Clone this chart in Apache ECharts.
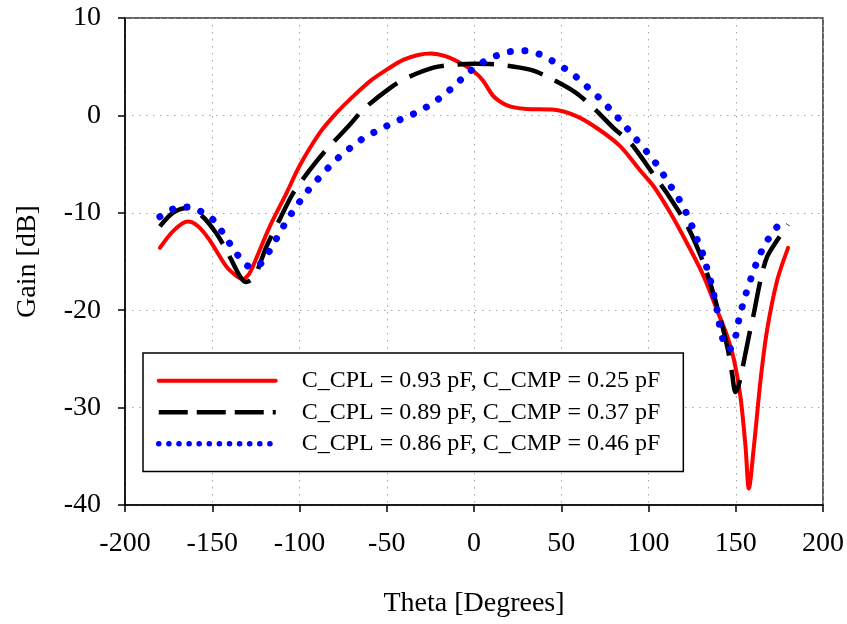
<!DOCTYPE html>
<html>
<head>
<meta charset="utf-8">
<script src="https://cdn.jsdelivr.net/npm/echarts@6/dist/echarts.min.js"></script>
<style>
  html, body { margin: 0; padding: 0; background: #ffffff; }
  #chart { width: 847px; height: 624px; }
</style>
</head>
<body>
<div id="chart"></div>
<script>
// Gain patterns for three capacitor settings
const seriesNames = [
  'C_CPL = 0.93 pF, C_CMP = 0.25 pF',
  'C_CPL = 0.89 pF, C_CMP = 0.37 pF',
  'C_CPL = 0.86 pF, C_CMP = 0.46 pF'
];

const thetaA = [-180, -172, -164, -158, -151.5, -142, -136, -132.4, -129, -126.7, -117, -107.5, -100, -88.4, -78.8, -69.3, -59.7, -50, -40.6, -32, -25, -16, -6, 0, 5, 11, 16, 21, 30, 45, 59, 72, 84, 95, 103, 112.5, 122, 131.6, 139.3, 145, 149, 152.7, 155.6, 157.5, 160.4, 164.2, 168, 173.8, 180];
const gainA  = [-13.6, -11.8, -10.9, -11.4, -12.8, -15.5, -16.5, -16.8, -16.3, -15.5, -11.4, -8.0, -5.2, -1.8, 0.25, 1.95, 3.5, 4.7, 5.7, 6.2, 6.35, 6.05, 5.2, 4.5, 3.6, 2.0, 1.3, 0.9, 0.65, 0.6, -0.1, -1.5, -3.2, -5.6, -7.3, -10.0, -13.1, -16.5, -20, -22.6, -25.1, -28.9, -34, -38.3, -34, -27.2, -22, -16.9, -13.6];

const thetaB = [-180, -172.6, -164, -155.4, -147.7, -142, -137.2, -133.5, -130.9, -128, -124.8, -119, -111.4, -103.7, -94.1, -86.5, -71.2, -63.5, -48.2, -38.6, -23.3, -11.9, 0, 14.9, 32.1, 41.7, 57, 66.6, 80, 89.6, 103, 110.6, 122.1, 131.6, 139.3, 145.1, 147.9, 149.8, 151.5, 153.7, 157.5, 160.4, 164.2, 168, 173.8, 180];
const gainB  = [-11.4, -10, -9.5, -10.4, -12.1, -13.8, -15.5, -16.7, -17.1, -16.9, -16.2, -13.5, -10.7, -8.0, -5.6, -3.9, -0.96, 0.6, 2.8, 3.84, 4.9, 5.2, 5.3, 5.2, 4.7, 4.0, 2.5, 1.1, -1.3, -2.8, -6.1, -8.0, -11.3, -15.2, -19.6, -23.7, -26.5, -28.4, -27.8, -26.1, -22.7, -20.3, -16.9, -14.5, -12.8, -11.2];

const thetaC = [-180, -172.2, -164, -156.1, -149, -142.7, -137.2, -130.9, -127, -123.2, -117.5, -112.7, -107.9, -102.4, -96.4, -89.7, -83.1, -76.2, -69.1, -62.2, -54.5, -46.9, -39.2, -31.6, -24.3, -17.2, -10.3, -3.2, 3.5, 11.1, 19.3, 27.6, 35.8, 43.8, 51.3, 58.2, 65.1, 72.3, 79.2, 85.7, 92.2, 99.3, 105.4, 111, 116.5, 121.1, 124.8, 128, 131.3, 133.8, 136.2, 138, 139.8, 141.2, 143.5, 146, 148.3, 150.4, 152.1, 154.4, 156.9, 159.8, 162.9, 167.2, 173, 175];
const gainC  = [-10.4, -9.6, -9.4, -9.9, -10.8, -12.4, -13.9, -15.3, -15.6, -15.4, -14, -12.5, -11, -9.5, -8.0, -6.6, -5.3, -4.1, -3.1, -2.2, -1.5, -0.8, -0.2, 0.4, 1.2, 2.1, 3.2, 4.4, 5.3, 6.0, 6.5, 6.65, 6.4, 5.7, 4.9, 4.0, 2.9, 1.7, 0.4, -0.9, -2.3, -3.8, -5.2, -6.8, -8.3, -9.8, -11.3, -12.8, -14.3, -15.9, -17.4, -18.9, -20.4, -22, -23.4, -24, -23.7, -22.3, -20.7, -19.2, -17.7, -16.2, -14.7, -13.1, -11.6, -11.2];

const xTicks = { min: -200, max: 200, step: 50 };
const yTicks = { min: -40, max: 10, step: 10 };

const FONT = 'Liberation Serif';

function pairs(xs, ys) {
  return xs.map((x, i) => [x, ys[i]]);
}

const chart = echarts.init(document.getElementById('chart'), null, { renderer: 'canvas' });

const gridLine = { show: true, lineStyle: { color: '#a6a6a6', width: 1, type: [1.5, 5.5] } };

chart.setOption({
  animation: false,
  backgroundColor: '#ffffff',
  grid: {
    left: 125, right: 24, top: 18, bottom: 119,
    show: true, borderColor: '#333333', borderWidth: 1.5, backgroundColor: 'transparent'
  },
  xAxis: {
    type: 'value',
    min: xTicks.min, max: xTicks.max, interval: xTicks.step,
    name: 'Theta [Degrees]',
    nameLocation: 'middle',
    nameGap: 85,
    nameTextStyle: { fontFamily: FONT, fontSize: 28, color: '#000' },
    axisLine: { show: true, onZero: false, lineStyle: { color: '#000', width: 1.5 } },
    axisTick: { show: true, inside: false, length: 7, lineStyle: { color: '#000', width: 1.5 } },
    axisLabel: { fontFamily: FONT, fontSize: 28, color: '#000', margin: 25 },
    splitLine: gridLine
  },
  yAxis: {
    type: 'value',
    min: yTicks.min, max: yTicks.max, interval: yTicks.step,
    name: 'Gain [dB]',
    nameLocation: 'middle',
    nameGap: 83,
    nameTextStyle: { fontFamily: FONT, fontSize: 28, color: '#000' },
    axisLine: { show: true, onZero: false, lineStyle: { color: '#000', width: 1.5 } },
    axisTick: { show: true, inside: false, length: 7, lineStyle: { color: '#000', width: 1.5 } },
    axisLabel: { fontFamily: FONT, fontSize: 28, color: '#000', margin: 24 },
    splitLine: gridLine
  },
  legend: {
    orient: 'vertical',
    left: 143, top: 353,
    padding: [12, 23, 12, 13],
    itemWidth: 117, itemHeight: 14, itemGap: 0,
    backgroundColor: '#ffffff',
    borderColor: '#000000', borderWidth: 1.5,
    selectedMode: false,
    itemStyle: { color: 'rgba(0,0,0,0)', borderColor: 'rgba(0,0,0,0)', borderWidth: 0 },
    textStyle: { fontFamily: FONT, fontSize: 24, color: '#000', lineHeight: 31.5, padding: [0, 0, 0, 21] },
    data: [
      { name: seriesNames[0], lineStyle: { color: '#ff0000', width: 4, type: 'solid', cap: 'round' } },
      { name: seriesNames[1], lineStyle: { color: '#000000', width: 4.5, type: [29, 9], cap: 'butt' } },
      { name: seriesNames[2], lineStyle: { color: '#0000ff', width: 5.5, type: [0.1, 10], cap: 'round' } }
    ]
  },
  series: [
    {
      name: seriesNames[0], type: 'line', symbol: 'none', smooth: 0.3,
      data: pairs(thetaA, gainA),
      lineStyle: { color: '#ff0000', width: 4, type: 'solid', cap: 'round', join: 'round' },
      itemStyle: { color: '#ff0000' }
    },
    {
      name: seriesNames[1], type: 'line', symbol: 'none', smooth: 0.3,
      data: pairs(thetaB, gainB),
      lineStyle: { color: '#000000', width: 4.5, type: [36, 14], cap: 'butt', join: 'round' },
      itemStyle: { color: '#000000' }
    },
    {
      name: seriesNames[2], type: 'line', symbol: 'none', smooth: 0.3,
      data: pairs(thetaC, gainC),
      lineStyle: { color: '#0000ff', width: 7, type: [0.1, 14.5], cap: 'round', join: 'round' },
      itemStyle: { color: '#0000ff' }
    }
  ]
});
</script>
</body>
</html>
